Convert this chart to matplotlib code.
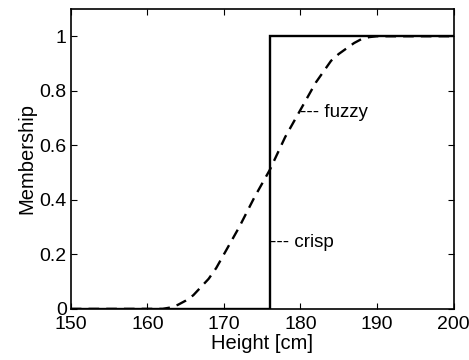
import matplotlib.pyplot as plt
import numpy as np

# Werte
height = [150, 162, 163, 164, 165, 166, 167, 168, 169, 170, 171, 172, 173, 174, 175,
          176, 177, 178, 179, 180, 181, 182, 183, 184, 185, 186, 187, 188, 189, 190, 200]
fuzzy = [0, 0, 0.005, 0.015, 0.03, 0.05, 0.08, 0.11, 0.15, 0.20, 0.25, 0.30, 0.355, 0.41, 0.46,
         0.51, 0.57, 0.63, 0.68, 0.73, 0.78, 0.83, 0.87, 0.91, 0.935, 0.955, 0.975, 0.99, 0.997, 1.0, 1.0]

crisp_x = [150, 176, 176, 200]
crisp_y = [0, 0, 1, 1]

yticks = [0, 0.2, 0.4, 0.6, 0.8, 1]
ytick_labels = ['0', '0.2', '0.4', '0.6', '0.8', '1']
xticks = [150, 160, 170, 180, 190, 200]

plt.rcParams['font.family'] = ['Liberation Sans', 'DejaVu Sans']

fig = plt.figure(figsize=(4.69, 3.60), dpi=100)
ax = fig.add_axes([0.151, 0.142, 0.816, 0.833])

ax.plot(crisp_x, crisp_y, color='black', lw=1.7, solid_joinstyle='miter')
ax.plot(height, fuzzy, color='black', lw=1.7, dashes=(4.5, 3.0))

ax.text(180, 0.72, '--- fuzzy', fontsize=13.5, va='center', ha='left')
ax.text(176, 0.245, '--- crisp', fontsize=13.5, va='center', ha='left')

ax.set_xlim(150, 200)
ax.set_ylim(0, 1.1)
ax.set_xticks(xticks)
ax.set_yticks(yticks)
ax.set_yticklabels(ytick_labels)
ax.tick_params(direction='in', top=True, right=True, length=4, width=0.8,
               labelsize=14, pad=3)
ax.tick_params(axis='x', pad=5)
ax.set_xlabel('Height [cm]', fontsize=14.5, labelpad=1)
ax.set_ylabel('Membership', fontsize=14.5, labelpad=2)
for s in ax.spines.values():
    s.set_linewidth(1.2)

fig.savefig('out.png', dpi=100)
